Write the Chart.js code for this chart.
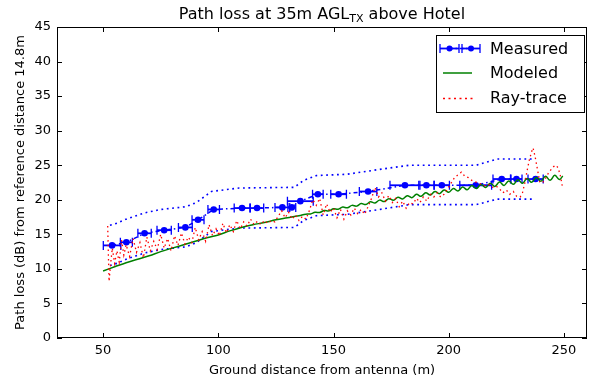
<!DOCTYPE html>
<html>
<head>
<meta charset="utf-8">
<script src="https://cdn.jsdelivr.net/npm/chart.js@4/dist/chart.umd.min.js"></script>
<style>
  html, body { margin: 0; padding: 0; background: #fff; }
  canvas { display: block; }
</style>
</head>
<body>
<canvas id="c" width="595" height="379"></canvas>
<script>
// ---------------- data ----------------
const xTicks = [50, 100, 150, 200, 250];
const yTicks = [0, 5, 10, 15, 20, 25, 30, 35, 40, 45];

const measX    = [53.9, 60.1, 68.0, 76.5, 85.7, 91.2, 98.0, 110.3, 116.8, 127.8, 131.9, 135.6, 143.2, 152.2, 165.0, 181.0, 190.3, 197.0, 211.7, 223.0, 229.4, 237.7];
const measY    = [13.4, 13.85, 15.15, 15.6, 16.0, 17.1, 18.6, 18.8, 18.8, 18.9, 18.9, 19.8, 20.8, 20.8, 21.2, 22.1, 22.1, 22.1, 22.1, 23.0, 23.0, 23.0];
const measXErr = [3.8, 2.6, 2.9, 3.1, 3.0, 2.6, 2.5, 3.4, 2.9, 3.2, 1.7, 5.6, 2.3, 3.4, 3.8, 6.5, 3.3, 3.3, 6.9, 3.8, 2.4, 3.3];

const boundX = [53, 56, 60, 68, 75, 86, 90.5, 97, 109, 133, 137, 142.5, 156, 170, 183, 212, 221, 237.5];
const upperY = [16.3, 16.6, 17.2, 18.1, 18.6, 19.0, 19.6, 21.2, 21.7, 21.8, 22.8, 23.5, 23.7, 24.4, 25.0, 25.0, 25.9, 25.9];
const lowerY = [10.5, 10.8, 11.4, 12.3, 12.8, 13.2, 13.8, 15.4, 15.9, 16.0, 17.0, 17.7, 17.9, 18.6, 19.3, 19.3, 20.1, 20.1];

const modelX = [50, 55, 60, 65, 70, 75, 80, 85, 90, 95, 100, 105, 110, 115, 120, 125, 130, 135,
  138, 140, 142, 144, 146, 148, 150, 152, 154, 156, 158, 160, 162, 164, 166, 168, 170, 172, 174, 176, 178,
  180, 182, 184, 186, 188, 190, 192, 194, 196, 198, 200, 202, 204, 206, 208, 210, 212, 214, 216, 218,
  220, 222, 224, 226, 228, 230, 232, 234, 236, 238, 240, 242, 244, 246, 248, 249.5];
const modelY = [9.7, 10.3, 10.9, 11.4, 11.9, 12.5, 13.0, 13.5, 14.0, 14.5, 14.9, 15.5, 16.0, 16.4, 16.7, 17.1, 17.4, 17.7,
  17.92, 17.95, 18.18, 18.17, 18.44, 18.40, 18.69, 18.63, 18.94, 18.85, 19.19, 19.08, 19.45, 19.31, 19.70, 19.53, 19.95, 19.74, 20.16, 19.93, 20.37,
  20.12, 20.58, 20.31, 20.79, 20.50, 21.00, 20.70, 21.21, 20.89, 21.42, 21.08, 21.63, 21.27, 21.84, 21.46, 22.05, 21.63, 22.22, 21.78, 22.39,
  21.93, 22.56, 22.08, 22.73, 22.23, 22.90, 22.38, 23.07, 22.53, 23.24, 22.68, 23.40, 22.81, 23.55, 22.94, 23.45];

const rayX = [52.0, 52.3, 52.6, 53.2, 54.0, 55.0, 56.0, 57.0, 58.0, 59.0, 60.0, 61.5, 63.0, 64.5, 66.0, 67.5, 69.0, 70.5,
  72.0, 73.5, 75.0, 76.5, 78.0, 79.5, 81.0, 82.5, 84.0, 85.5, 87.0, 88.5, 90.0, 91.5, 93.0, 94.5, 96.0, 97.5, 99.0,
  100.5, 102.0, 103.5, 105.0, 106.5, 108.0, 109.5, 111.0, 112.5, 114.0, 115.5, 117.0, 118.5, 120.0, 121.5, 123.0,
  124.5, 126.0, 127.5, 129.0, 130.5, 132.0, 133.5, 135.0, 136.5, 138.0, 139.5, 141.0, 142.5, 144.0, 145.5, 147.0,
  148.5, 150.0, 151.5, 153.0, 154.5, 156.0, 157.5, 159.0, 160.5, 162.0, 163.5, 165.0, 166.5, 168.0, 169.5, 171.0,
  172.5, 174.0, 175.5, 177.0, 178.5, 180.0, 181.5, 183.0, 184.5, 186.0, 187.5, 189.0, 190.5, 192.0, 193.5, 195.0,
  196.5, 198.0, 199.5, 201.0, 202.5, 204.0, 205.5, 207.0, 208.5, 210.0, 211.5, 213.0, 214.5, 216.0, 217.5, 219.0,
  220.5, 222.0, 223.5, 225.0, 226.5, 228.0, 229.5, 231.0, 232.0, 233.0, 234.0, 235.0, 236.0, 236.6, 237.5, 238.5,
  239.5, 240.5, 241.5, 242.5, 243.5, 244.5, 245.5, 246.5, 247.5, 248.5, 249.5];
const rayY = [16.2, 12.0, 8.2, 10.5, 13.0, 10.8, 12.6, 11.0, 14.2, 12.0, 13.5, 11.8, 14.4, 12.4, 13.8, 11.6, 14.6, 12.6,
  14.0, 12.8, 15.0, 13.0, 14.4, 12.6, 14.8, 13.4, 15.2, 13.6, 14.6, 13.8, 16.0, 14.2, 15.4, 14.0, 16.4, 14.8, 15.8,
  14.8, 16.6, 15.2, 16.4, 15.4, 17.0, 15.8, 16.8, 16.2, 17.2, 16.4, 16.9, 16.4, 17.0, 16.6, 17.0,
  16.8, 17.6, 18.4, 17.4, 18.2, 17.2, 17.8, 17.0, 17.6, 17.2, 18.4, 20.0, 19.2, 20.2, 17.8, 19.4,
  18.2, 18.8, 17.4, 18.6, 17.2, 18.4, 17.8, 18.8, 18.0, 18.6, 17.9, 19.0, 20.2, 21.8, 20.4, 21.0,
  19.8, 20.6, 19.6, 20.2, 19.0, 19.8, 18.8, 19.6, 19.4, 20.2, 19.6, 20.4, 19.8, 20.8, 20.4, 21.0,
  20.4, 20.8, 21.6, 22.4, 23.2, 23.6, 24.0, 23.4, 23.2, 22.8, 22.6, 22.4, 22.2, 22.0, 22.2, 21.8,
  22.0, 21.6, 21.0, 21.4, 20.8, 21.2, 20.5, 20.4, 21.0, 22.4, 24.2, 25.8, 27.0, 27.5, 26.2, 24.4,
  22.6, 22.4, 22.8, 23.4, 24.0, 24.4, 24.8, 25.0, 24.6, 23.4, 21.6];

const zip = (xs, ys) => xs.map((x, i) => ({ x: x, y: ys[i] }));

// ---------------- styling ----------------
const FONT = "'DejaVu Sans', 'Liberation Sans', sans-serif";
const BLUE = '#0000ff', GREEN = '#008000', RED = '#ff0000';

Chart.defaults.font.family = FONT;
Chart.defaults.color = '#000';

const decor = {
  id: 'decor',
  beforeDatasetsDraw(chart) {
    const ctx = chart.ctx, xs = chart.scales.x, ys = chart.scales.y;
    const ca = chart.chartArea;
    ctx.save();
    ctx.beginPath(); ctx.rect(ca.left, ca.top, ca.right - ca.left, ca.bottom - ca.top); ctx.clip();
    ctx.strokeStyle = BLUE;
    measX.forEach((x, i) => {
      const y = ys.getPixelForValue(measY[i]);
      const x1 = xs.getPixelForValue(x - measXErr[i]);
      const x2 = xs.getPixelForValue(x + measXErr[i]);
      ctx.lineWidth = 1.8;
      ctx.beginPath(); ctx.moveTo(x1, y); ctx.lineTo(x2, y); ctx.stroke();
      ctx.lineWidth = 1.3;
      ctx.beginPath();
      ctx.moveTo(x1, y - 4.5); ctx.lineTo(x1, y + 4.5);
      ctx.moveTo(x2, y - 4.5); ctx.lineTo(x2, y + 4.5);
      ctx.stroke();
    });
    ctx.restore();
  },
  afterDraw(chart) {
    const ctx = chart.ctx, xs = chart.scales.x, ys = chart.scales.y;
    const ca = chart.chartArea;
    ctx.save();
    // frame
    ctx.strokeStyle = '#000'; ctx.lineWidth = 1;
    ctx.strokeRect(Math.round(ca.left) + 0.5, Math.round(ca.top) + 0.5,
                   Math.round(ca.right - ca.left) - 1, Math.round(ca.bottom - ca.top) - 1);
    // inward ticks
    ctx.beginPath();
    xTicks.forEach(v => {
      const px = Math.round(xs.getPixelForValue(v)) + 0.5;
      ctx.moveTo(px, ca.bottom); ctx.lineTo(px, ca.bottom - 5);
      ctx.moveTo(px, ca.top); ctx.lineTo(px, ca.top + 5);
    });
    yTicks.forEach(v => {
      const py = Math.round(ys.getPixelForValue(v)) + 0.5;
      ctx.moveTo(ca.left, py); ctx.lineTo(ca.left + 5, py);
      ctx.moveTo(ca.right, py); ctx.lineTo(ca.right - 5, py);
    });
    ctx.stroke();

    // title with subscript
    const cx = (ca.left + ca.right) / 2;
    const parts = [
      { t: 'Path loss at 35m AGL', f: '16px ' + FONT, dy: 0 },
      { t: 'TX', f: '11px ' + FONT, dy: 3 },
      { t: ' above Hotel', f: '16px ' + FONT, dy: 0 }
    ];
    let total = 0;
    parts.forEach(p => { ctx.font = p.f; p.w = ctx.measureText(p.t).width; total += p.w; });
    let tx = cx - total / 2;
    ctx.fillStyle = '#000'; ctx.textBaseline = 'alphabetic'; ctx.textAlign = 'left';
    parts.forEach(p => { ctx.font = p.f; ctx.fillText(p.t, tx, 19 + p.dy); tx += p.w; });

    // legend
    const L = 436, T = 35, R = 584, B = 112;
    ctx.fillStyle = '#fff';
    ctx.fillRect(L, T, R - L, B - T);
    ctx.strokeStyle = '#000'; ctx.lineWidth = 1;
    ctx.strokeRect(L + 0.5, T + 0.5, R - L, B - T);
    const rows = [48.5, 73, 97.5];
    // Measured handle
    ctx.strokeStyle = BLUE; ctx.fillStyle = BLUE;
    ctx.lineWidth = 1.5; ctx.setLineDash([4, 2.5, 1.5, 2.5]);
    ctx.beginPath(); ctx.moveTo(449, rows[0]); ctx.lineTo(471, rows[0]); ctx.stroke();
    ctx.setLineDash([]);
    [[440, 459], [462, 480]].forEach(([a, b]) => {
      ctx.lineWidth = 1.8;
      ctx.beginPath(); ctx.moveTo(a, rows[0]); ctx.lineTo(b, rows[0]); ctx.stroke();
      ctx.lineWidth = 1.3;
      ctx.beginPath();
      ctx.moveTo(a, rows[0] - 4.5); ctx.lineTo(a, rows[0] + 4.5);
      ctx.moveTo(b, rows[0] - 4.5); ctx.lineTo(b, rows[0] + 4.5);
      ctx.stroke();
    });
    [449.5, 471].forEach(px => { ctx.beginPath(); ctx.arc(px, rows[0], 3, 0, Math.PI * 2); ctx.fill(); });
    // Modeled handle
    ctx.strokeStyle = GREEN; ctx.lineWidth = 1.5;
    ctx.beginPath(); ctx.moveTo(443, rows[1]); ctx.lineTo(472, rows[1]); ctx.stroke();
    // Ray-trace handle
    ctx.strokeStyle = RED; ctx.lineWidth = 1.5; ctx.setLineDash([2, 3.5]);
    ctx.beginPath(); ctx.moveTo(443, Math.round(rows[2]) + 0.5); ctx.lineTo(473, Math.round(rows[2]) + 0.5); ctx.stroke();
    ctx.setLineDash([]);
    ctx.fillStyle = '#000'; ctx.font = '16px ' + FONT; ctx.textBaseline = 'middle';
    ['Measured', 'Modeled', 'Ray-trace'].forEach((s, i) => ctx.fillText(s, 490, rows[i] + 1));
    ctx.restore();
  }
};

new Chart(document.getElementById('c'), {
  type: 'scatter',
  data: {
    datasets: [
      { label: 'Measured', data: zip(measX, measY), showLine: true, borderColor: BLUE, backgroundColor: BLUE,
        borderWidth: 1.5, borderDash: [4, 3, 1.5, 3], pointRadius: 3.3, pointBorderWidth: 0, pointStyle: 'circle', order: 5 },
      { label: 'upper', data: zip(boundX, upperY), showLine: true, borderColor: BLUE, borderWidth: 1.6,
        borderDash: [1.8, 3.6], pointRadius: 0, order: 4 },
      { label: 'lower', data: zip(boundX, lowerY), showLine: true, borderColor: BLUE, borderWidth: 1.6,
        borderDash: [1.8, 3.6], pointRadius: 0, order: 4 },
      { label: 'Modeled', data: zip(modelX, modelY), showLine: true, borderColor: GREEN, borderWidth: 1.5,
        tension: 0.4, pointRadius: 0, order: 2 },
      { label: 'Ray-trace', data: zip(rayX, rayY), showLine: true, borderColor: RED, borderWidth: 1.3,
        borderDash: [1.5, 3.2], pointRadius: 0, order: 1 }
    ]
  },
  options: {
    responsive: false,
    animation: false,
    devicePixelRatio: 1,
    layout: { padding: { top: 27, right: 8, left: 0, bottom: 0 } },
    plugins: { legend: { display: false }, title: { display: false }, tooltip: { enabled: false } },
    scales: {
      x: {
        type: 'linear', min: 30, max: 260,
        afterBuildTicks: s => { s.ticks = xTicks.map(v => ({ value: v })); },
        afterFit: s => { s.height = 41; },
        grid: { display: false, drawTicks: false },
        border: { display: false },
        ticks: { padding: 5, font: { size: 13 }, color: '#000' },
        title: { display: true, text: 'Ground distance from antenna (m)', font: { size: 13 }, color: '#000',
                 padding: { top: 2, bottom: 1 } }
      },
      y: {
        type: 'linear', min: 0, max: 45,
        afterBuildTicks: s => { s.ticks = yTicks.map(v => ({ value: v })); },
        afterFit: s => { s.width = 57; },
        grid: { display: false, drawTicks: false },
        border: { display: false },
        ticks: { padding: 6, font: { size: 13 }, color: '#000' },
        title: { display: true, text: 'Path loss (dB) from reference distance 14.8m', font: { size: 13 }, color: '#000',
                 padding: { top: 13, bottom: 0 } }
      }
    }
  },
  plugins: [decor]
});
</script>
</body>
</html>
